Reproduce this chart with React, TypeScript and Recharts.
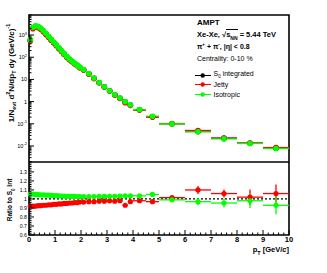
import React from "react";
import { ComposedChart, Scatter, XAxis, YAxis, ErrorBar, ReferenceLine, ReferenceArea } from "recharts";

const FONT = '"Liberation Sans", Arial, Helvetica, sans-serif';

// pT bins [GeV/c]
const ptCenters = [
  0.05, 0.15, 0.25, 0.35, 0.45, 0.55, 0.65, 0.75, 0.85, 0.95,
  1.05, 1.15, 1.25, 1.35, 1.45, 1.55, 1.65, 1.75, 1.85, 1.95,
  2.1, 2.3, 2.5, 2.7, 2.9, 3.1, 3.3, 3.5, 3.7, 3.9,
  4.25, 4.75, 5.5, 6.5, 7.5, 8.5, 9.5,
];
const ptHalfWidths = [
  0.05, 0.05, 0.05, 0.05, 0.05, 0.05, 0.05, 0.05, 0.05, 0.05,
  0.05, 0.05, 0.05, 0.05, 0.05, 0.05, 0.05, 0.05, 0.05, 0.05,
  0.1, 0.1, 0.1, 0.1, 0.1, 0.1, 0.1, 0.1, 0.1, 0.1,
  0.25, 0.25, 0.5, 0.5, 0.5, 0.5, 0.5,
];

// 1/Nevt d2N/dpTdy
const integratedSpectrum = [
  590, 2090, 2470, 2330, 1950, 1520, 1140, 840, 620, 458,
  345, 255, 190, 140, 105, 81, 65, 52.5, 43, 35,
  27.3, 18, 11.2, 7.1, 4.6, 3.05, 2.05, 1.41, 0.97, 0.7,
  0.43, 0.207, 0.101, 0.045, 0.022, 0.0133, 0.008,
];
const jettySpectrum = [
  540, 1920, 2280, 2160, 1810, 1420, 1070, 790, 585, 435,
  328, 242, 182, 134, 100, 78, 63, 51, 41.5, 34,
  26.5, 17.6, 11, 7, 4.5, 3, 2, 1.38, 0.9, 0.68,
  0.42, 0.2, 0.103, 0.05, 0.023, 0.0135, 0.0085,
];
const isotropicSpectrum = [
  620, 2200, 2600, 2450, 2050, 1600, 1200, 880, 650, 480,
  360, 265, 198, 145, 108, 84, 67, 54, 44, 36,
  28, 18.5, 11.5, 7.3, 4.7, 3.1, 2.1, 1.45, 1.0, 0.72,
  0.44, 0.22, 0.1, 0.044, 0.021, 0.013, 0.0077,
];

// ratio to S0 integrated
const jettyRatio = [
  0.92, 0.92, 0.92, 0.925, 0.925, 0.93, 0.93, 0.935, 0.935, 0.94,
  0.94, 0.945, 0.945, 0.95, 0.95, 0.955, 0.955, 0.96, 0.96, 0.965,
  0.965, 0.97, 0.97, 0.975, 0.975, 0.98, 0.975, 0.98, 0.93, 0.97,
  0.98, 0.97, 1.015, 1.1, 1.06, 1.02, 1.06,
];
const jettyRatioErr = [
  0.003, 0.003, 0.003, 0.003, 0.003, 0.003, 0.003, 0.003, 0.003, 0.003,
  0.003, 0.003, 0.003, 0.003, 0.003, 0.003, 0.003, 0.003, 0.003, 0.003,
  0.005, 0.005, 0.005, 0.005, 0.005, 0.005, 0.005, 0.005, 0.01, 0.01,
  0.012, 0.015, 0.02, 0.045, 0.045, 0.085, 0.1,
];
const isotropicRatio = [
  1.055, 1.053, 1.05, 1.048, 1.046, 1.045, 1.043, 1.042, 1.04, 1.038,
  1.036, 1.035, 1.033, 1.032, 1.03, 1.03, 1.028, 1.028, 1.027, 1.027,
  1.027, 1.027, 1.027, 1.028, 1.028, 1.03, 1.03, 1.032, 1.035, 1.035,
  1.035, 1.05, 0.99, 0.97, 0.955, 0.98, 0.93,
];
const isotropicRatioErr = [
  0.003, 0.003, 0.003, 0.003, 0.003, 0.003, 0.003, 0.003, 0.003, 0.003,
  0.003, 0.003, 0.003, 0.003, 0.003, 0.003, 0.003, 0.003, 0.003, 0.003,
  0.005, 0.005, 0.005, 0.005, 0.005, 0.005, 0.005, 0.005, 0.01, 0.01,
  0.012, 0.015, 0.02, 0.04, 0.05, 0.08, 0.1,
];

const xTickLabels = [0, 1, 2, 3, 4, 5, 6, 7, 8, 9, 10];
const logDecades = [0.01, 0.1, 1, 10, 100, 1000];
const ratioTickLabels = [0.6, 0.7, 0.8, 0.9, 1, 1.1, 1.2, 1.3];

const SPEC_DOMAIN = [0.0019, 8000];
const RATIO_DOMAIN = [0.6, 1.41];

const xTicks: number[] = [];
for (let i = 0; i <= 50; i++) xTicks.push(i / 5);
const logTicks: number[] = [];
[0.001, ...logDecades].forEach((d) => {
  for (let m = 1; m <= 9; m++) {
    const v = +(d * m).toPrecision(3);
    if (v >= SPEC_DOMAIN[0] && v <= SPEC_DOMAIN[1]) logTicks.push(v);
  }
});
const ratioTicks: number[] = [];
for (let i = 60; i <= 140; i += 2) ratioTicks.push(i / 100);

const rows = (ys: number[], errs?: number[]) =>
  ptCenters.map((pt, i) => ({ pt, y: ys[i], ex: ptHalfWidths[i], ey: errs ? errs[i] : 0 }));

const GREEN = "#00ff00";
const RED = "#ff0000";

const series = [
  { name: "integrated", color: "#000000", spec: integratedSpectrum },
  { name: "jetty", color: RED, spec: jettySpectrum, ratio: jettyRatio, err: jettyRatioErr },
  { name: "isotropic", color: GREEN, spec: isotropicSpectrum, ratio: isotropicRatio, err: isotropicRatioErr },
];

const dot = (color: string, r: number) => (p: any) => <circle cx={p.cx} cy={p.cy} r={r} fill={color} />;

const XTick = (p: any) => {
  const v = p.payload.value;
  const major = xTickLabels.includes(v);
  return (
    <g>
      <line x1={p.x} x2={p.x} y1={p.y} y2={p.y - (major ? 5 : 2.5)} stroke="#000" strokeWidth={1} />
      {p.showLabel && major && (
        <text x={p.x} y={p.y + 7} textAnchor="middle" fontSize={7.5} fontWeight="bold" fontFamily={FONT}>
          {v}
        </text>
      )}
    </g>
  );
};

const LogTick = (p: any) => {
  const v = p.payload.value;
  const e = Math.round(Math.log10(v));
  const major = logDecades.includes(v);
  return (
    <g>
      <line x1={p.x} x2={p.x + (major ? 5 : 2.5)} y1={p.y} y2={p.y} stroke="#000" strokeWidth={1} />
      {major && (
        <text x={p.x - 2} y={p.y + 2} textAnchor="end" fontSize={5.5} fontFamily={FONT}>
          {e === 0 ? "1" : "10"}
          {e !== 0 && e !== 1 && (
            <tspan dy={-2.5} fontSize={4}>
              {e}
            </tspan>
          )}
        </text>
      )}
    </g>
  );
};

const RatioTick = (p: any) => {
  const v = p.payload.value;
  const major = ratioTickLabels.some((t) => Math.abs(t - v) < 1e-6);
  return (
    <g>
      <line x1={p.x} x2={p.x + (major ? 5 : 2.5)} y1={p.y} y2={p.y} stroke="#000" strokeWidth={1} />
      {major && (
        <text x={p.x - 2} y={p.y + 1.8} textAnchor="end" fontSize={5.2} fontFamily={FONT}>
          {v}
        </text>
      )}
    </g>
  );
};

const LegendRow = ({ color, top, children }: any) => (
  <div style={{ position: "absolute", left: 195, top, height: 9, display: "flex", alignItems: "center", fontSize: 7, fontFamily: FONT }}>
    <svg width={16} height={7} style={{ marginRight: 2.5 }}>
      <line x1={0} x2={16} y1={3.5} y2={3.5} stroke={color} strokeWidth={1} />
      <circle cx={7.7} cy={3.5} r={2.2} fill={color} />
    </svg>
    <span>{children}</span>
  </div>
);

export default function App() {
  return (
    <div style={{ position: "absolute", left: 0, top: 0, width: 327, height: 273, background: "#fff", fontFamily: FONT }}>
      <div style={{ position: "absolute", left: 0, top: 0 }}>
        <ComposedChart width={327} height={162} margin={{ top: 15, right: 38, bottom: 0, left: 0 }}>
          <XAxis
            type="number"
            dataKey="pt"
            domain={[0, 10]}
            ticks={xTicks}
            interval={0}
            tickSize={0}
            tickMargin={0}
            height={0}
            axisLine={false}
            tick={(p: any) => <XTick {...p} showLabel={false} />}
          />
          <YAxis
            type="number"
            dataKey="y"
            scale="log"
            domain={SPEC_DOMAIN}
            allowDataOverflow
            ticks={logTicks}
            interval={0}
            tickSize={0}
            tickMargin={0}
            width={29}
            axisLine={false}
            tick={(p: any) => <LogTick {...p} />}
          />
          <ReferenceArea x1={0} x2={10} y1={SPEC_DOMAIN[0]} y2={SPEC_DOMAIN[1]} fill="none" stroke="#000" strokeWidth={1.6} ifOverflow="visible" />
          {series.map((s) => (
            <Scatter key={s.name} data={rows(s.spec)} fill={s.color} shape={dot(s.color, 2.8)} isAnimationActive={false}>
              <ErrorBar dataKey="ex" direction="x" width={0} stroke={s.color} strokeWidth={1.3} />
            </Scatter>
          ))}
        </ComposedChart>
      </div>

      <div style={{ position: "absolute", left: 0, top: 162 }}>
        <ComposedChart width={327} height={95} margin={{ top: 0, right: 38, bottom: 0, left: 0 }}>
          <XAxis
            type="number"
            dataKey="pt"
            domain={[0, 10]}
            ticks={xTicks}
            interval={0}
            tickSize={0}
            tickMargin={0}
            height={22}
            axisLine={false}
            tick={(p: any) => <XTick {...p} showLabel />}
          />
          <YAxis
            type="number"
            dataKey="y"
            domain={RATIO_DOMAIN}
            allowDataOverflow
            ticks={ratioTicks}
            interval={0}
            tickSize={0}
            tickMargin={0}
            width={29}
            axisLine={false}
            tick={(p: any) => <RatioTick {...p} />}
          />
          <ReferenceArea x1={0} x2={10} y1={RATIO_DOMAIN[0]} y2={RATIO_DOMAIN[1]} fill="none" stroke="#000" strokeWidth={1.6} ifOverflow="visible" />
          <ReferenceLine y={1} stroke="#000" strokeWidth={1.2} strokeDasharray="2 2" />
          {series
            .filter((s) => s.ratio)
            .map((s) => (
              <Scatter key={s.name} data={rows(s.ratio as number[], s.err)} fill={s.color} shape={dot(s.color, 2.6)} isAnimationActive={false}>
                <ErrorBar dataKey="ex" direction="x" width={0} stroke={s.color} strokeWidth={1.3} />
                <ErrorBar dataKey="ey" direction="y" width={0} stroke={s.color} strokeWidth={1.3} />
              </Scatter>
            ))}
        </ComposedChart>
      </div>

      {/* axis titles */}
      <div
        style={{
          position: "absolute", left: 10.5, top: 73, transform: "translate(-50%, -50%) rotate(-90deg)",
          whiteSpace: "nowrap", fontSize: 8, fontWeight: "bold", lineHeight: "10px",
        }}
      >
        1/N<sub style={{ fontSize: 5.5 }}>evt</sub> d<sup style={{ fontSize: 5.5 }}>2</sup>N/dp<sub style={{ fontSize: 5.5 }}>T</sub> dy (GeV/<i>c</i>)<sup style={{ fontSize: 5.5 }}>-1</sup>
      </div>
      <div
        style={{
          position: "absolute", left: 12, top: 199.5, transform: "translate(-50%, -50%) rotate(-90deg)",
          whiteSpace: "nowrap", fontSize: 6.5, fontWeight: 600, lineHeight: "8px",
        }}
      >
        Ratio to S<sub style={{ fontSize: 4.5 }}>0</sub> Int
      </div>
      <div style={{ position: "absolute", right: 38, top: 245, fontSize: 7.5, fontWeight: "bold", lineHeight: "9px", whiteSpace: "nowrap" }}>
        p<sub style={{ fontSize: 5.5 }}>T</sub> [GeV/<i>c</i>]
      </div>

      {/* annotations */}
      <div style={{ position: "absolute", left: 197, top: 17.8, fontSize: 8, fontWeight: "bold", lineHeight: "9px" }}>AMPT</div>
      <div style={{ position: "absolute", left: 197, top: 29.8, fontSize: 7.5, fontWeight: "bold", lineHeight: "9px", whiteSpace: "nowrap" }}>
        Xe-Xe, √<span style={{ borderTop: "1px solid #000" }}>s<sub style={{ fontSize: 5 }}>NN</sub></span> = 5.44 TeV
      </div>
      <div style={{ position: "absolute", left: 197, top: 39.5, fontSize: 7, fontWeight: 600, lineHeight: "9px", whiteSpace: "nowrap" }}>
        π<sup style={{ fontSize: 4.5 }}>+</sup> + π<sup style={{ fontSize: 4.5 }}>-</sup>, |η| &lt; 0.8
      </div>
      <div style={{ position: "absolute", left: 197, top: 53.8, fontSize: 7, lineHeight: "9px", whiteSpace: "nowrap" }}>
        Centrality: 0-10 %
      </div>
      <LegendRow color="#000000" top={70.5}>
        S<sub style={{ fontSize: 4.5 }}>0</sub> integrated
      </LegendRow>
      <LegendRow color={RED} top={79.8}>Jetty</LegendRow>
      <LegendRow color={GREEN} top={89.8}>Isotropic</LegendRow>
    </div>
  );
}
